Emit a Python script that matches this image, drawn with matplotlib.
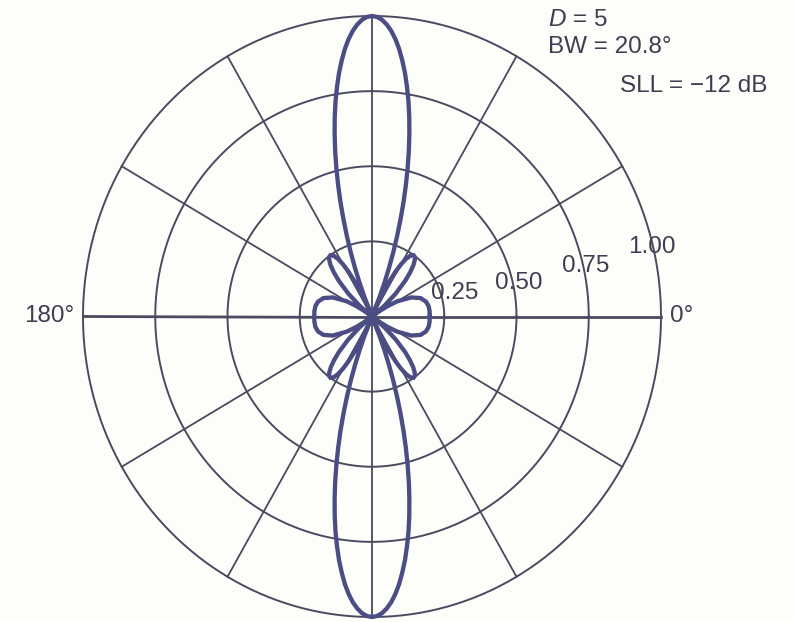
import numpy as np
import matplotlib
matplotlib.use('Agg')
import matplotlib.pyplot as plt

plt.rcParams['font.family'] = ['Liberation Sans', 'DejaVu Sans']
plt.rcParams['mathtext.fontset'] = 'custom'
plt.rcParams['mathtext.it'] = 'Liberation Sans:italic'
plt.rcParams['mathtext.rm'] = 'Liberation Sans'

# pattern, first quadrant (angle in deg, relative field)
quad_angle = [0, 5, 10, 15, 20, 25, 30, 33, 35, 36.9, 38.5, 40, 43, 46, 48,
              50, 51.5, 53, 55, 57, 58.5, 60, 61.5, 63, 65, 66.4, 68, 69, 70,
              71, 72, 73, 74, 75, 76, 77, 78, 79, 80, 81, 82, 83, 84, 85, 86,
              87, 88, 89, 90]
quad_r = [0.200, 0.200, 0.199, 0.193, 0.179, 0.150, 0.101, 0.062, 0.031, 0.0,
          0.029, 0.057, 0.113, 0.166, 0.197, 0.223, 0.237, 0.247, 0.250,
          0.240, 0.224, 0.200, 0.167, 0.126, 0.057, 0.0, 0.071, 0.120, 0.172,
          0.226, 0.281, 0.337, 0.395, 0.453, 0.510, 0.567, 0.622, 0.676,
          0.727, 0.774, 0.819, 0.859, 0.896, 0.927, 0.953, 0.973, 0.988,
          0.997, 1.000]

ring_values = [0.25, 0.50, 0.75, 1.00]
ring_labels = ['0.25', '0.50', '0.75', '1.00']
spoke_angles = list(range(0, 360, 30))

notes = ['$D$ = 5', 'BW = 20.8°', 'SLL = −12 dB']

# mirror the quadrant into the full pattern
qa = np.array(quad_angle)
qr = np.array(quad_r)
ang = np.concatenate([qa, 180 - qa[::-1], 180 + qa, 360 - qa[::-1]])
rad = np.concatenate([qr, qr[::-1], qr, qr[::-1]])

grid_col = '#4a4a60'
line_col = '#4b4d84'
text_col = '#3e3e52'

fig = plt.figure(figsize=(7.94, 6.22), dpi=100)
fig.patch.set_facecolor('#fdfdf9')
ax = fig.add_axes([83 / 794, 5 / 622, 578 / 794, 601 / 622], projection='polar')
ax.set_aspect('auto')
ax.set_facecolor('none')
ax.set_ylim(0, 1)
ax.grid(False)
ax.set_xticks([])
ax.set_yticks([])
ax.spines['polar'].set_visible(False)

t = np.linspace(0, 2 * np.pi, 400)
for rv in ring_values:
    ax.plot(t, np.full_like(t, rv), color=grid_col, lw=1.4, clip_on=False)
for a in spoke_angles:
    w = 2.0 if a % 180 == 0 else 1.3
    ax.plot([np.deg2rad(a), np.deg2rad(a)], [0, 1], color=grid_col, lw=w,
            clip_on=False)

ax.plot(np.deg2rad(ang), rad, color=line_col, lw=3.1, solid_joinstyle='round',
        clip_on=False)

# ring labels
label_pos = [(15.0, 0.297), (12.2, 0.521), (12.9, 0.760), (13.5, 0.997)]
for (th, r), s in zip(label_pos, ring_labels):
    ax.text(np.deg2rad(th), r, s, ha='center', va='center', fontsize=17.5,
            color=text_col)

ax.text(0, 1.031, '0°', ha='left', va='center', fontsize=17.5, color=text_col)
ax.text(np.pi, 1.031, '180°', ha='right', va='center', fontsize=17.5,
        color=text_col)

fig.text(548 / 794, 1 - 20 / 622, notes[0], ha='left', va='center',
         fontsize=17.5, color=text_col)
fig.text(548 / 794, 1 - 47 / 622, notes[1], ha='left', va='center',
         fontsize=17.5, color=text_col)
fig.text(620 / 794, 1 - 86 / 622, notes[2], ha='left', va='center',
         fontsize=17.5, color=text_col)

fig.savefig('out.png', dpi=100, facecolor=fig.get_facecolor())
